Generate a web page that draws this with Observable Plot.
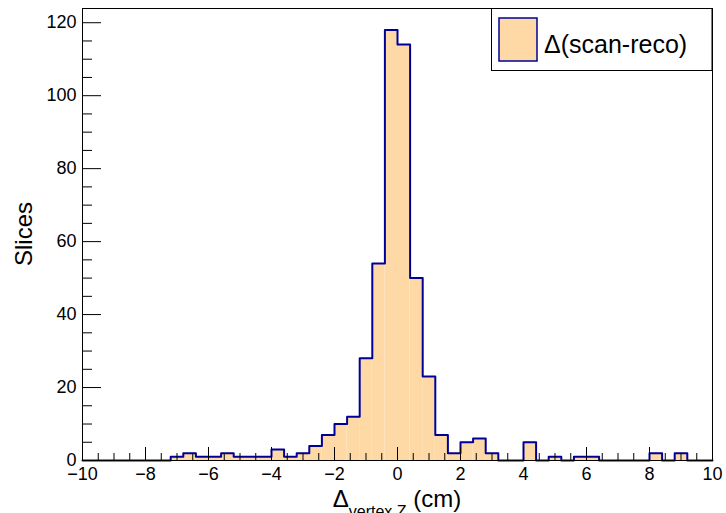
<!DOCTYPE html>
<html>
<head>
<meta charset="utf-8">
<script src="https://cdn.jsdelivr.net/npm/d3@7"></script>
<script src="https://cdn.jsdelivr.net/npm/@observablehq/plot@0.6"></script>
<style>
  html, body { margin: 0; padding: 0; background: white; }
  #chart { position: relative; width: 726px; height: 513px; }
  svg text { font-family: "Liberation Sans", Arial, Helvetica, sans-serif; }
</style>
</head>
<body>
<div id="chart"></div>
<script>
// ---- data ----
const xMin = -10;
const xMax = 10;
const binWidth = 0.4;
const counts = [0,0,0,0,0,0,0,1,2,1,1,2,1,1,1,3,1,2,4,7,10,12,28,54,118,114,50,23,7,2,5,6,2,0,0,5,0,1,0,1,1,0,0,0,0,2,0,2,0,0];
const yTop = 123.9;
const xMajorTicks = [-10,-8,-6,-4,-2,0,2,4,6,8,10];
const xMinorTicks = [-9.5,-9,-8.5,-7.5,-7,-6.5,-5.5,-5,-4.5,-3.5,-3,-2.5,-1.5,-1,-0.5,0.5,1,1.5,2.5,3,3.5,4.5,5,5.5,6.5,7,7.5,8.5,9,9.5];
const yMajorTicks = [0,20,40,60,80,100,120];
const yMinorTicks = [5,10,15,25,30,35,45,50,55,65,70,75,85,90,95,105,110,115];
const legendLabel = "Δ(scan-reco)";
const yLabel = "Slices";

// ---- derived tables ----
const bins = counts.map((c, i) => ({x1: xMin + i * binWidth, x2: xMin + (i + 1) * binWidth, y: c}));
const steps = bins.map(b => ({x: b.x1, y: b.y})).concat([{x: xMax, y: counts[counts.length - 1]}]);

const W = 726, H = 513;
const mL = 82, mR = 14, mT = 8, mB = 53;
const pxPerX = (W - mL - mR) / (xMax - xMin);
const pxPerY = (H - mT - mB) / yTop;

const fillColor = "#fed9a6";
const lineColor = "#000099";

const chart = Plot.plot({
  width: W, height: H,
  marginLeft: mL, marginRight: mR, marginTop: mT, marginBottom: mB,
  x: {domain: [xMin, xMax]},
  y: {domain: [0, yTop]},
  style: {fontFamily: "'Liberation Sans', Arial, Helvetica, sans-serif", fontSize: "18px", background: "white", color: "black", overflow: "visible"},
  marks: [
    Plot.rectY(bins, {x1: "x1", x2: "x2", y: "y", fill: fillColor}),
    Plot.line(steps, {x: "x", y: "y", curve: "step-after", stroke: lineColor, strokeWidth: 2}),
    Plot.frame({stroke: "black", strokeWidth: 1}),
    Plot.ruleX(xMajorTicks, {x: d => d, y1: 0, y2: 13 / pxPerY, stroke: "black"}),
    Plot.ruleX(xMinorTicks, {x: d => d, y1: 0, y2: 7 / pxPerY, stroke: "black"}),
    Plot.ruleY(yMajorTicks, {y: d => d, x1: xMin, x2: xMin + 19 / pxPerX, stroke: "black"}),
    Plot.ruleY(yMinorTicks, {y: d => d, x1: xMin, x2: xMin + 10 / pxPerX, stroke: "black"}),
    Plot.axisX({ticks: xMajorTicks, tickSize: 0, tickPadding: 7, label: null, fontSize: 18}),
    Plot.axisY({ticks: yMajorTicks, tickSize: 0, tickPadding: 6, label: null, fontSize: 18})
  ]
});

document.getElementById("chart").appendChild(chart);

const svg = d3.select(chart);

// y title
svg.append("text")
  .attr("transform", `translate(32, ${mT + (H - mT - mB) / 2}) rotate(-90)`)
  .attr("text-anchor", "middle")
  .attr("font-size", 24)
  .attr("fill", "black")
  .text(yLabel);

// x title with subscript
const xt = svg.append("text")
  .attr("x", mL + (W - mL - mR) / 2)
  .attr("y", 507)
  .attr("text-anchor", "middle")
  .attr("font-size", 24)
  .attr("fill", "black");
xt.append("tspan").text("Δ");
xt.append("tspan").attr("font-size", 16).attr("dy", 10).text("vertex Z");
xt.append("tspan").attr("dy", -10).text(" (cm)");

// legend
const lg = svg.append("g");
lg.append("rect")
  .attr("x", 491.5).attr("y", mT + 0.5).attr("width", W - mR - 491.5).attr("height", 62)
  .attr("fill", "white").attr("stroke", "black").attr("stroke-width", 1);
lg.append("rect")
  .attr("x", 499).attr("y", 18).attr("width", 38).attr("height", 43)
  .attr("fill", fillColor).attr("stroke", lineColor).attr("stroke-width", 1.5);
lg.append("text")
  .attr("x", 544).attr("y", 53)
  .attr("text-anchor", "start")
  .attr("font-size", 25)
  .attr("fill", "black")
  .text(legendLabel);
</script>
</body>
</html>
